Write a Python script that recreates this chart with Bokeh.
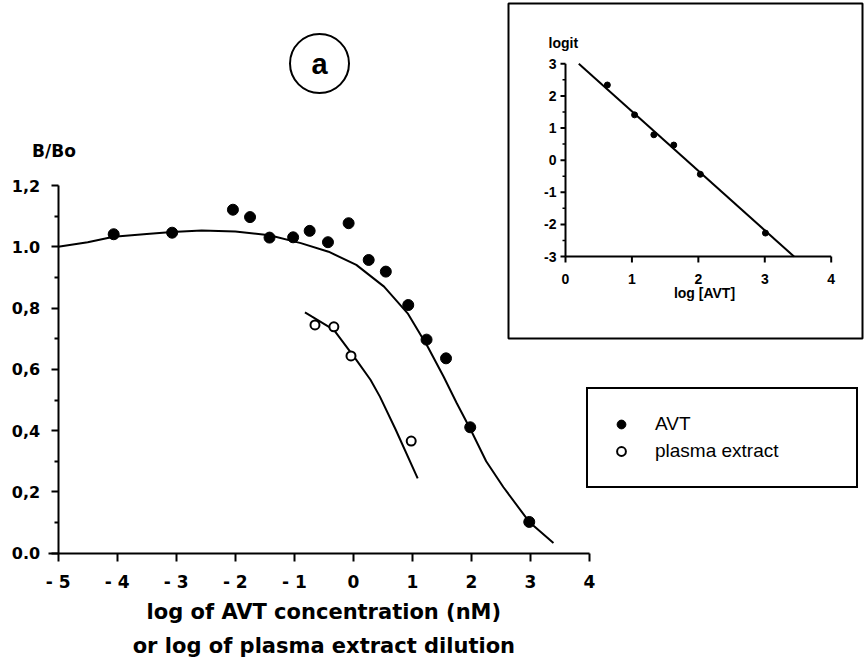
from bokeh.plotting import figure
from bokeh.models import Range1d, FixedTicker, Label, Legend, LegendItem, BoxAnnotation
from bokeh.core.properties import value
from bokeh.embed import file_html
from bokeh.resources import INLINE

# ---------------- data ----------------
avt_x = [-4.06, -3.07, -2.04, -1.75, -1.42, -1.02, -0.74, -0.43, -0.08, 0.26, 0.55, 0.93, 1.24, 1.57, 1.98, 2.98]
avt_y = [1.041, 1.046, 1.121, 1.097, 1.030, 1.031, 1.052, 1.015, 1.077, 0.957, 0.919, 0.810, 0.697, 0.636, 0.411, 0.102]

plasma_x = [-0.65, -0.33, -0.04, 0.98]
plasma_y = [0.745, 0.739, 0.644, 0.366]

avt_fit_x = [-5.0, -4.5, -4.06, -3.5, -3.07, -2.57, -2.0, -1.42, -0.89, -0.42, 0.05, 0.52, 0.92, 1.26, 1.53, 1.75, 1.99, 2.25, 2.54, 2.98, 3.39]
avt_fit_y = [1.0, 1.015, 1.033, 1.042, 1.048, 1.053, 1.050, 1.038, 1.012, 0.984, 0.941, 0.870, 0.783, 0.674, 0.576, 0.490, 0.402, 0.300, 0.216, 0.102, 0.033]

plasma_fit_x = [-0.82, -0.70, -0.33, 0.05, 0.29, 0.45, 0.72, 1.09]
plasma_fit_y = [0.786, 0.772, 0.729, 0.631, 0.566, 0.511, 0.402, 0.244]

inset_x = [0.63, 1.04, 1.33, 1.63, 2.03, 3.01]
inset_y = [2.34, 1.41, 0.79, 0.47, -0.44, -2.27]
inset_fit_x = [0.20, 3.44]
inset_fit_y = [3.0, -3.0]

x_ticks = [-5, -4, -3, -2, -1, 0, 1, 2, 3, 4]
x_tick_labels = ["- 5", "- 4", "- 3", "- 2", "- 1", "0", "1", "2", "3", "4"]
y_ticks = [0, 0.2, 0.4, 0.6, 0.8, 1.0, 1.2]
y_minor_ticks = [0.1, 0.3, 0.5, 0.7, 0.9, 1.1]
y_tick_labels = ["0.0", "0,2", "0,4", "0,6", "0,8", "1.0", "1,2"]

inset_x_ticks = [0, 1, 2, 3, 4]
inset_y_ticks = [-3, -2, -1, 0, 1, 2, 3]
inset_y_minor = [-2.5, -1.5, -0.5, 0.5, 1.5, 2.5]

# ---------------- layout geometry (page pixels) ----------------
W, H = 865, 663
X0PX, Y0PX = 57.7, 552.7     # pixel position of (x=-5, y=0)
XPX, YPX = 59.03, 306.4      # pixels per data unit


def dx(px):
    return -5 + (px - X0PX) / XPX


def dy(py):
    return (Y0PX - py) / YPX


BOLD = "DejaVu Sans"

p = figure(width=W, height=H, x_range=Range1d(dx(0), dx(W)), y_range=Range1d(dy(H), dy(0)),
           output_backend="svg", toolbar_location=None,
           min_border_left=0, min_border_right=0, min_border_top=0, min_border_bottom=0)
p.grid.visible = False
p.outline_line_color = None
p.background_fill_color = "white"
p.border_fill_color = "white"

xa = p.xaxis[0]
xa.fixed_location = 0
xa.ticker = FixedTicker(ticks=x_ticks)
xa.major_label_overrides = dict(zip(x_ticks, x_tick_labels))
xa.bounds = (dx(48), 4)
xa.axis_line_width = 2
xa.major_tick_line_width = 2
xa.major_tick_out = 8
xa.major_tick_in = 0
xa.minor_tick_out = 0
xa.minor_tick_in = 0
xa.major_label_standoff = 11
xa.major_label_text_font = BOLD
xa.major_label_text_font_style = "bold"
xa.major_label_text_font_size = "17px"
xa.major_label_text_color = "black"

ya = p.yaxis[0]
ya.fixed_location = -5
ya.ticker = FixedTicker(ticks=y_ticks, minor_ticks=y_minor_ticks)
ya.major_label_overrides = dict(zip(y_ticks, y_tick_labels))
ya.bounds = (0, 1.2)
ya.axis_line_width = 2
ya.major_tick_line_width = 2
ya.minor_tick_line_width = 2
ya.major_tick_out = 7
ya.major_tick_in = 0
ya.minor_tick_out = 4
ya.minor_tick_in = 0
ya.major_label_standoff = 11
ya.major_label_text_font = BOLD
ya.major_label_text_font_style = "bold"
ya.major_label_text_font_size = "16px"
ya.major_label_text_color = "black"

# curves and points
p.line(avt_fit_x, avt_fit_y, line_color="black", line_width=2)
p.line(plasma_fit_x, plasma_fit_y, line_color="black", line_width=2)
r_avt = p.scatter(avt_x, avt_y, size=11, marker="circle", fill_color="black", line_color="black")
r_pl = p.scatter(plasma_x, plasma_y, size=9, marker="circle", fill_color="white",
                 line_color="black", line_width=2)

# axis titles
p.add_layout(Label(x=dx(53.5), y=dy(150), text="B/Bo", text_font=BOLD, text_font_style="bold",
                   text_font_size="17px", text_align="center", text_baseline="middle",
                   text_color="black"))
p.add_layout(Label(x=-0.5, y=dy(611), text="log of AVT concentration (nM)", text_font=BOLD,
                   text_font_style="bold", text_font_size="21px", text_align="center",
                   text_baseline="middle", text_color="black"))
p.add_layout(Label(x=-0.5, y=dy(645), text="or log of plasma extract dilution", text_font=BOLD,
                   text_font_style="bold", text_font_size="21px", text_align="center",
                   text_baseline="middle", text_color="black"))

# panel tag "a"
p.scatter([dx(319)], [dy(63)], size=59, marker="circle", fill_color=None, line_color="black", line_width=2)
p.add_layout(Label(x=dx(319), y=dy(63), text="a", text_font="Liberation Sans", text_font_style="bold",
                   text_font_size="29px", text_align="center", text_baseline="middle",
                   text_color="black"))

# legend
legend = Legend(items=[LegendItem(label="AVT", renderers=[r_avt]),
                       LegendItem(label="plasma extract", renderers=[r_pl])],
                location=(586, 175), orientation="vertical",
                border_line_color="black", border_line_width=2, border_line_alpha=1,
                background_fill_color="white", background_fill_alpha=1,
                padding=22, spacing=1, margin=0,
                glyph_width=22, glyph_height=26, label_standoff=23,
                label_width=179, label_height=26,
                label_text_font="Liberation Sans", label_text_font_size="19px",
                label_text_color="black")
p.add_layout(legend)

# ---------------- inset ----------------
p.add_layout(BoxAnnotation(left=dx(508), right=dx(862), top=dy(3), bottom=dy(338),
                           fill_color=None, fill_alpha=0, line_color="black", line_alpha=1,
                           line_width=2))

IX0, IX4, IYm3, IY3 = 565, 830.7, 256, 63.3
ixpx = (IX4 - IX0) / 4.0
iypx = (IYm3 - IY3) / 6.0
sub = p.subplot(x_source=Range1d(0, 4), y_source=Range1d(-3, 3),
                x_target=Range1d(dx(IX0), dx(IX4)), y_target=Range1d(dy(IYm3), dy(IY3)))

# inset axes
sub.segment(x0=[0, 0], y0=[-3, -3], x1=[4, 0], y1=[-3, 3], line_color="black", line_width=2)
sub.segment(x0=inset_x_ticks, y0=[-3] * len(inset_x_ticks), x1=inset_x_ticks,
            y1=[-3 - 6 / iypx] * len(inset_x_ticks), line_color="black", line_width=2)
sub.segment(x0=[0] * len(inset_y_ticks), y0=inset_y_ticks, x1=[-5 / ixpx] * len(inset_y_ticks),
            y1=inset_y_ticks, line_color="black", line_width=2)
sub.segment(x0=[0] * len(inset_y_minor), y0=inset_y_minor, x1=[-3 / ixpx] * len(inset_y_minor),
            y1=inset_y_minor, line_color="black", line_width=1.5)
sub.text(x=inset_x_ticks, y=[-3 - 22 / iypx] * len(inset_x_ticks), text=[str(t) for t in inset_x_ticks],
         text_font=value("Liberation Sans"), text_font_style="bold", text_font_size="14px",
         text_align="center", text_baseline="middle", text_color="black")
sub.text(x=[-9 / ixpx] * len(inset_y_ticks), y=inset_y_ticks, text=[str(t) for t in inset_y_ticks],
         text_font=value("Liberation Sans"), text_font_style="bold", text_font_size="14px",
         text_align="right", text_baseline="middle", text_color="black")
sub.text(x=[(548 - IX0) / ixpx], y=[3 + (IY3 - 42.5) / iypx], text=["logit"],
         text_font=value("Liberation Sans"), text_font_style="bold", text_font_size="14px",
         text_align="left", text_baseline="middle", text_color="black")
sub.text(x=[(704 - IX0) / ixpx], y=[3 - (292.5 - IY3) / iypx], text=["log [AVT]"],
         text_font=value("Liberation Sans"), text_font_style="bold", text_font_size="14px",
         text_align="center", text_baseline="middle", text_color="black")

sub.line(inset_fit_x, inset_fit_y, line_color="black", line_width=2)
sub.scatter(inset_x, inset_y, size=6, marker="circle", fill_color="black", line_color="black")

open("out.html", "w").write(file_html(p, INLINE))
